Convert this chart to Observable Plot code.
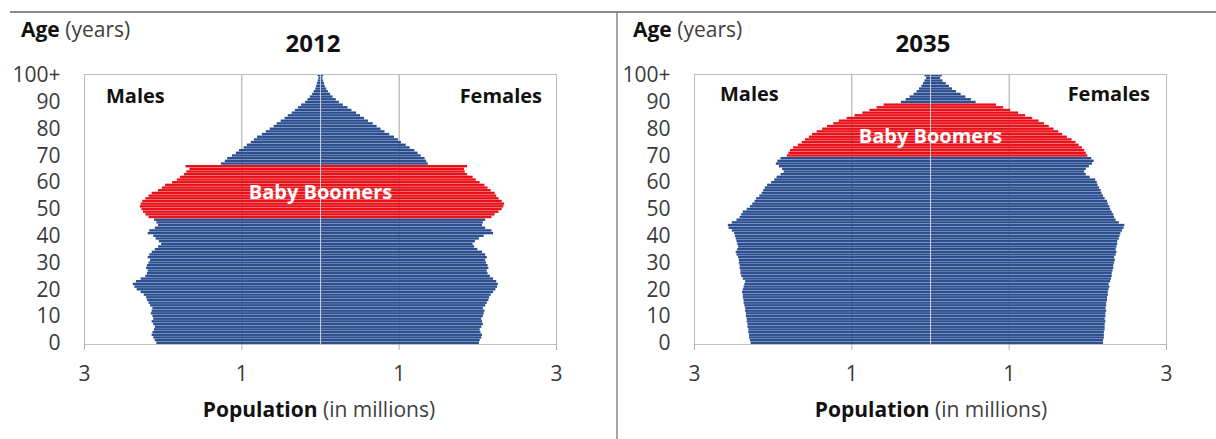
<!DOCTYPE html>
<html>
<head>
<meta charset="utf-8">
<script src="https://cdn.jsdelivr.net/npm/d3@7"></script>
<script src="https://cdn.jsdelivr.net/npm/@observablehq/plot@0.6"></script>
<style>
  html, body { margin: 0; padding: 0; background: #fff; }
  #wrap { position: relative; width: 1216px; height: 439px; background: #fff; overflow: hidden; font-family: 'Open Sans', sans-serif; }
  .panel { position: absolute; top: 0; }
  #ov { position: absolute; left: 0; top: 0; pointer-events: none; }
</style>
</head>
<body>
<div id="wrap">
  <div id="p1" class="panel" style="left:0px"></div>
  <div id="p2" class="panel" style="left:610px"></div>
  <svg id="ov" width="1216" height="439" font-family="'Open Sans', sans-serif"></svg>
</div>
<script>
// ---------- data ----------
const ages = d3.range(0, 101);               // single-year ages, 100 = "100+"
const ageTicks = [0, 10, 20, 30, 40, 50, 60, 70, 80, 90, 100];
const xTicks = [-3, -1, 1, 3];
const titles = ["2012", "2035"];
const boomerRange2012 = [47, 66];
const boomerRange2035 = [70, 89];
const boomerLabelAge2012 = 57;
const boomerLabelAge2035 = 78;

// population in millions, ages 0..100
const males2012 = [
  2.08,2.10,2.12,2.14,2.13,2.11,2.10,2.12,2.14,2.12,
  2.13,2.15,2.14,2.13,2.16,2.18,2.20,2.21,2.24,2.28,
  2.33,2.36,2.38,2.34,2.28,2.22,2.20,2.19,2.21,2.20,
  2.18,2.16,2.19,2.17,2.14,2.10,2.06,2.02,2.05,2.09,
  2.12,2.19,2.17,2.10,2.06,2.08,2.11,2.18,2.22,2.25,
  2.27,2.29,2.28,2.26,2.22,2.18,2.14,2.06,2.01,1.97,
  1.88,1.82,1.78,1.73,1.70,1.66,1.71,1.26,1.21,1.18,
  1.12,1.07,1.03,0.97,0.93,0.88,0.84,0.80,0.74,0.69,
  0.64,0.59,0.55,0.50,0.45,0.41,0.36,0.32,0.28,0.24,
  0.19,0.16,0.13,0.10,0.08,0.06,0.05,0.04,0.03,0.02,
  0.03
];
const females2012 = [
  2.02,2.03,2.05,2.06,2.04,2.03,2.05,2.07,2.06,2.05,
  2.07,2.08,2.09,2.07,2.10,2.12,2.14,2.15,2.17,2.20,
  2.23,2.25,2.26,2.24,2.20,2.16,2.13,2.12,2.14,2.13,
  2.11,2.10,2.12,2.10,2.06,2.00,1.96,1.94,1.97,2.02,
  2.08,2.20,2.18,2.10,2.06,2.07,2.10,2.18,2.22,2.27,
  2.31,2.33,2.34,2.31,2.27,2.24,2.22,2.17,2.13,2.09,
  2.03,1.98,1.94,1.87,1.84,1.83,1.87,1.37,1.35,1.33,
  1.28,1.24,1.20,1.14,1.09,1.03,0.99,0.94,0.88,0.82,
  0.77,0.72,0.67,0.61,0.56,0.51,0.46,0.40,0.35,0.29,
  0.24,0.20,0.16,0.13,0.10,0.08,0.06,0.05,0.04,0.03,
  0.04
];
const males2035 = [
  2.28,2.29,2.30,2.30,2.31,2.31,2.32,2.32,2.33,2.33,
  2.34,2.34,2.35,2.35,2.36,2.37,2.37,2.38,2.38,2.39,
  2.38,2.37,2.36,2.35,2.38,2.40,2.41,2.41,2.42,2.42,
  2.43,2.43,2.44,2.46,2.47,2.45,2.44,2.45,2.46,2.47,
  2.48,2.49,2.52,2.56,2.57,2.52,2.46,2.42,2.40,2.38,
  2.33,2.29,2.26,2.23,2.21,2.17,2.14,2.12,2.10,2.07,
  2.02,1.98,1.95,1.90,1.86,1.88,1.92,1.96,1.94,1.90,
  1.82,1.80,1.78,1.74,1.68,1.63,1.59,1.54,1.50,1.44,
  1.37,1.31,1.23,1.16,1.06,0.96,0.86,0.77,0.68,0.59,
  0.37,0.31,0.26,0.21,0.17,0.14,0.11,0.09,0.07,0.05,
  0.07
];
const females2035 = [
  2.20,2.20,2.21,2.21,2.21,2.22,2.22,2.22,2.23,2.22,
  2.23,2.23,2.24,2.23,2.24,2.24,2.25,2.25,2.26,2.26,
  2.27,2.28,2.27,2.29,2.30,2.31,2.31,2.32,2.33,2.33,
  2.34,2.35,2.34,2.36,2.37,2.36,2.37,2.38,2.38,2.40,
  2.41,2.42,2.44,2.46,2.47,2.40,2.36,2.34,2.33,2.31,
  2.29,2.28,2.26,2.25,2.22,2.20,2.18,2.17,2.15,2.13,
  2.12,2.10,2.03,1.98,1.96,1.98,2.02,2.06,2.08,2.05,
  2.00,1.98,1.96,1.93,1.89,1.85,1.80,1.74,1.68,1.63,
  1.57,1.51,1.45,1.38,1.30,1.21,1.12,1.02,0.93,0.84,
  0.58,0.52,0.45,0.39,0.33,0.28,0.24,0.20,0.16,0.13,
  0.15
];

// ---------- styles ----------
const BLUE = "#2b4f91";
const RED = "#e8111a";
const FONT = "'Open Sans', sans-serif";

function buildRows(males, females, range) {
  const rows = [];
  ages.forEach((a, i) => {
    const boom = a >= range[0] && a <= range[1] ? "boom" : "other";
    rows.push({age: a, sex: "Males", value: -males[i], group: boom});
    rows.push({age: a, sex: "Females", value: females[i], group: boom});
  });
  return rows;
}

function pyramid(males, females, range, labelAge, width, marginRight) {
  const rows = buildRows(males, females, range);
  return Plot.plot({
    width: width,
    height: 439,
    marginTop: 74,
    marginBottom: 95,
    marginLeft: 84,
    marginRight: marginRight,
    style: {fontFamily: FONT, background: "transparent", overflow: "visible"},
    x: {domain: [-3, 3], label: null},
    y: {type: "band", domain: ages.slice().reverse(), paddingInner: 0.1, paddingOuter: 0, label: null},
    color: {domain: ["other", "boom"], range: [BLUE, RED]},
    marks: [
      Plot.ruleX([-1, 1], {stroke: "#a3a3a3", strokeWidth: 1}),
      Plot.barX(rows, {x: "value", y: "age", fill: "group"}),
      Plot.ruleX([0], {stroke: "#c9d0dc", strokeWidth: 1}),
      Plot.frame({stroke: "#bdbdbd"}),
      Plot.axisY({
        ticks: ageTicks,
        tickFormat: d => d === 100 ? "100+" : String(d),
        tickSize: 0, tickPadding: 24, fontSize: 21, fill: "#3a3a3a", label: null
      }),
      Plot.axisX({
        ticks: xTicks,
        tickFormat: d => String(Math.abs(d)),
        tickSize: 6, tickPadding: 16, fontSize: 21, stroke: "#b0b0b0", fill: "#3a3a3a", label: null
      }),
      Plot.text([{age: labelAge, x: 0, label: "Baby Boomers"}], {
        x: "x", y: "age", text: "label", fill: "white", fontWeight: "bold", fontSize: 20, dy: 2
      })
    ]
  });
}

document.getElementById("p1").appendChild(pyramid(males2012, females2012, boomerRange2012, boomerLabelAge2012, 608, 52));
document.getElementById("p2").appendChild(pyramid(males2035, females2035, boomerRange2035, boomerLabelAge2035, 606, 50));

// ---------- annotations ----------
const ov = d3.select("#ov");
ov.append("line").attr("x1", 10).attr("y1", 12).attr("x2", 1216).attr("y2", 12)
  .attr("stroke", "#8a8a8a").attr("stroke-width", 2);
ov.append("line").attr("x1", 617).attr("y1", 12).attr("x2", 617).attr("y2", 439)
  .attr("stroke", "#8a8a8a").attr("stroke-width", 1.5);

const panels = [
  {off: 0, title: titles[0], titleX: 313, ageX: 21, males: 106, femalesEnd: 542, mfY: 103, popX: 319},
  {off: 610, title: titles[1], titleX: 923, ageX: 633, males: 720, femalesEnd: 1150, mfY: 101, popX: 931}
];
panels.forEach(p => {
  const age = ov.append("text").attr("x", p.ageX).attr("y", 37).attr("font-size", 21);
  age.append("tspan").attr("font-weight", "bold").attr("fill", "#111").text("Age");
  age.append("tspan").attr("fill", "#404040").text(" (years)");

  ov.append("text").attr("x", p.titleX).attr("y", 52).attr("text-anchor", "middle")
    .attr("font-size", 24).attr("font-weight", "bold").attr("fill", "#111").text(p.title);

  ov.append("text").attr("x", p.males).attr("y", p.mfY).attr("font-size", 20)
    .attr("font-weight", "bold").attr("fill", "#111").text("Males");
  ov.append("text").attr("x", p.femalesEnd).attr("y", p.mfY).attr("text-anchor", "end").attr("font-size", 20)
    .attr("font-weight", "bold").attr("fill", "#111").text("Females");

  const pop = ov.append("text").attr("x", p.popX).attr("y", 417).attr("text-anchor", "middle").attr("font-size", 21);
  pop.append("tspan").attr("font-weight", "bold").attr("fill", "#111").text("Population");
  pop.append("tspan").attr("fill", "#404040").text(" (in millions)");
});
</script>
</body>
</html>
